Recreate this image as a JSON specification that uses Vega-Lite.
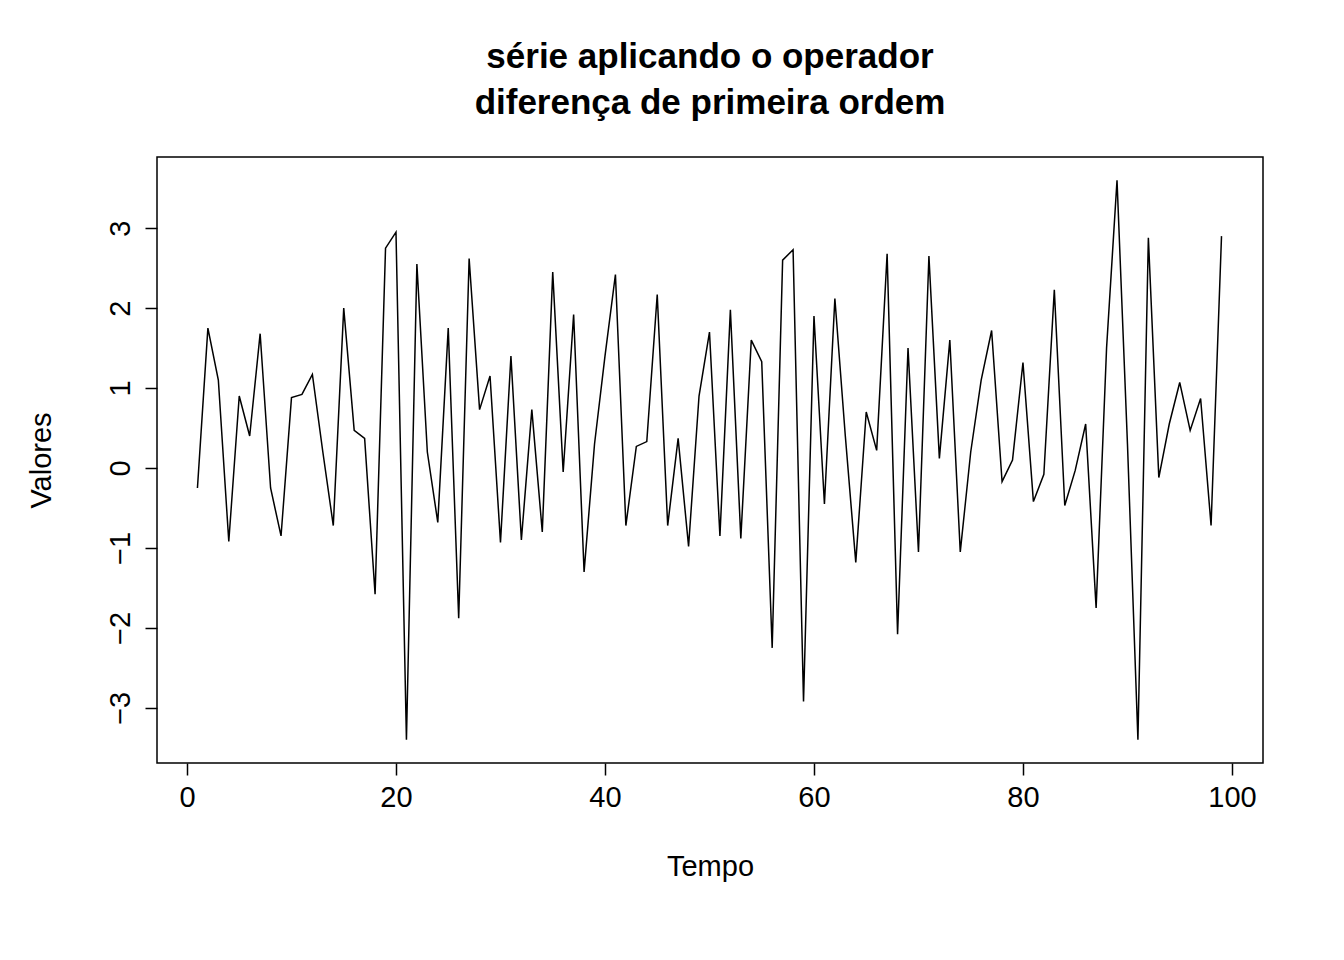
{
  "$schema": "https://vega.github.io/schema/vega-lite/v6.json",
  "autosize": "none",
  "width": 1106,
  "height": 606,
  "padding": {"left": 157, "top": 157, "right": 81, "bottom": 197},
  "background": "white",
  "config": {
    "font": "Liberation Sans",
    "view": {"stroke": "black", "strokeWidth": 1.5},
    "axis": {"grid": false, "domain": false, "tickColor": "black", "tickSize": 12, "tickWidth": 1.5,
      "labelFont": "Liberation Sans", "labelFontSize": 29, "labelColor": "black",
      "titleFont": "Liberation Sans", "titleFontSize": 29, "titleFontWeight": "normal", "titleColor": "black"}
  },
  "title": {
    "text": ["série aplicando o operador", "diferença de primeira ordem"],
    "fontSize": 35, "fontWeight": "bold", "font": "Liberation Sans", "color": "black",
    "anchor": "middle", "offset": 36, "lineHeight": 46
  },
  "data": {"values": [
    {"t":1,"v":-0.25},{"t":2,"v":1.75},{"t":3,"v":1.1},{"t":4,"v":-0.92},{"t":5,"v":0.9},
    {"t":6,"v":0.4},{"t":7,"v":1.68},{"t":8,"v":-0.25},{"t":9,"v":-0.85},{"t":10,"v":0.88},
    {"t":11,"v":0.92},{"t":12,"v":1.17},{"t":13,"v":0.2},{"t":14,"v":-0.72},{"t":15,"v":2.0},
    {"t":16,"v":0.47},{"t":17,"v":0.37},{"t":18,"v":-1.58},{"t":19,"v":2.75},{"t":20,"v":2.95},
    {"t":21,"v":-3.4},{"t":22,"v":2.55},{"t":23,"v":0.2},{"t":24,"v":-0.68},{"t":25,"v":1.75},
    {"t":26,"v":-1.88},{"t":27,"v":2.62},{"t":28,"v":0.73},{"t":29,"v":1.15},{"t":30,"v":-0.93},
    {"t":31,"v":1.4},{"t":32,"v":-0.9},{"t":33,"v":0.73},{"t":34,"v":-0.8},{"t":35,"v":2.45},
    {"t":36,"v":-0.05},{"t":37,"v":1.92},{"t":38,"v":-1.3},{"t":39,"v":0.3},{"t":40,"v":1.4},
    {"t":41,"v":2.42},{"t":42,"v":-0.72},{"t":43,"v":0.27},{"t":44,"v":0.33},{"t":45,"v":2.17},
    {"t":46,"v":-0.72},{"t":47,"v":0.37},{"t":48,"v":-0.98},{"t":49,"v":0.9},{"t":50,"v":1.7},
    {"t":51,"v":-0.85},{"t":52,"v":1.98},{"t":53,"v":-0.88},{"t":54,"v":1.6},{"t":55,"v":1.33},
    {"t":56,"v":-2.25},{"t":57,"v":2.6},{"t":58,"v":2.73},{"t":59,"v":-2.92},{"t":60,"v":1.9},
    {"t":61,"v":-0.45},{"t":62,"v":2.12},{"t":63,"v":0.4},{"t":64,"v":-1.18},{"t":65,"v":0.7},
    {"t":66,"v":0.22},{"t":67,"v":2.68},{"t":68,"v":-2.08},{"t":69,"v":1.5},{"t":70,"v":-1.05},
    {"t":71,"v":2.65},{"t":72,"v":0.12},{"t":73,"v":1.6},{"t":74,"v":-1.05},{"t":75,"v":0.2},
    {"t":76,"v":1.1},{"t":77,"v":1.72},{"t":78,"v":-0.17},{"t":79,"v":0.1},{"t":80,"v":1.32},
    {"t":81,"v":-0.42},{"t":82,"v":-0.08},{"t":83,"v":2.23},{"t":84,"v":-0.47},{"t":85,"v":-0.03},
    {"t":86,"v":0.55},{"t":87,"v":-1.75},{"t":88,"v":1.5},{"t":89,"v":3.6},{"t":90,"v":0.3},
    {"t":91,"v":-3.4},{"t":92,"v":2.88},{"t":93,"v":-0.12},{"t":94,"v":0.55},{"t":95,"v":1.07},
    {"t":96,"v":0.47},{"t":97,"v":0.87},{"t":98,"v":-0.72},{"t":99,"v":2.9}
  ]},
  "mark": {"type": "line", "color": "black", "strokeWidth": 1.5},
  "encoding": {
    "x": {"field": "t", "type": "quantitative", "title": "Tempo",
      "scale": {"domain": [-2.87, 102.97], "nice": false, "zero": false},
      "axis": {"values": [0, 20, 40, 60, 80, 100], "labelPadding": 8, "titlePadding": 40}},
    "y": {"field": "v", "type": "quantitative", "title": "Valores",
      "scale": {"domain": [-3.69, 3.89], "nice": false, "zero": false},
      "axis": {"values": [-3, -2, -1, 0, 1, 2, 3], "labelAngle": -90, "labelAlign": "center",
        "labelBaseline": "bottom", "labelPadding": 10, "titlePadding": 50}}
  }
}
